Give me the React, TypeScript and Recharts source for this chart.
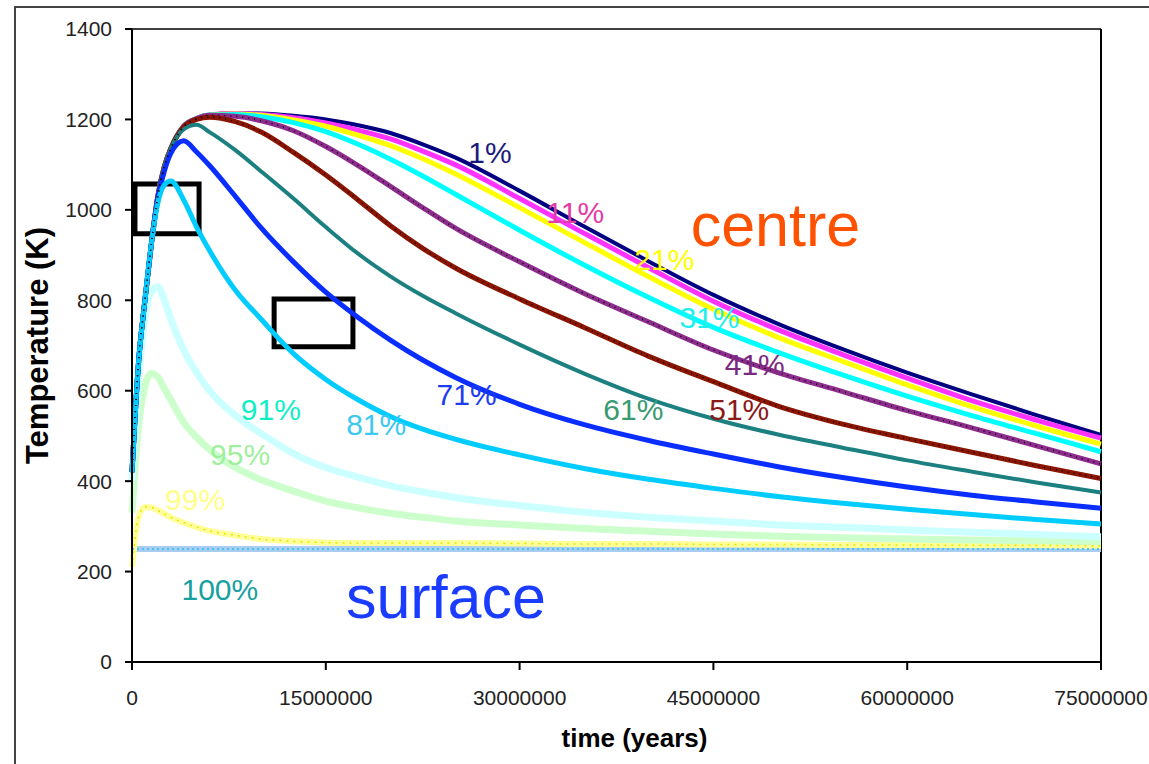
import { LineChart, Line, XAxis, YAxis, ReferenceLine, ReferenceArea, ReferenceDot, Label } from 'recharts'

// time axis, in millions of years
const TIME_MYR = [0, 0.5, 1, 1.5, 2, 2.5, 3, 4, 5, 6, 8, 10, 12.5, 15, 17.5, 20, 22.5, 25, 30, 35, 40, 45, 50, 55, 60, 65, 70, 75]

// temperature (K) at each depth fraction
const P1 = [420, 660, 800, 925, 1030, 1095, 1135, 1185, 1202, 1210, 1214, 1213, 1208, 1200, 1187, 1170, 1145, 1116, 1042, 963, 886, 812, 748, 692, 640, 592, 546, 502]
const P11 = [420, 660, 800, 925, 1030, 1095, 1135, 1185, 1202, 1210, 1213, 1211, 1204, 1192, 1176, 1157, 1130, 1100, 1025, 948, 872, 798, 735, 680, 628, 578, 535, 495]
const P21 = [420, 660, 800, 925, 1030, 1095, 1135, 1185, 1202, 1210, 1212, 1209, 1199, 1185, 1165, 1142, 1113, 1080, 1005, 928, 852, 780, 718, 665, 613, 565, 522, 482]
const P31 = [420, 660, 800, 925, 1030, 1095, 1135, 1185, 1202, 1210, 1211, 1206, 1193, 1173, 1145, 1112, 1075, 1035, 955, 878, 806, 740, 685, 635, 588, 545, 505, 465]
const P41 = [420, 660, 800, 925, 1030, 1095, 1135, 1185, 1202, 1209, 1207, 1197, 1175, 1140, 1098, 1052, 1005, 960, 885, 815, 752, 690, 640, 598, 556, 518, 478, 438]
const P51 = [420, 660, 800, 925, 1030, 1095, 1135, 1183, 1200, 1205, 1195, 1172, 1127, 1077, 1022, 965, 915, 872, 803, 740, 676, 620, 566, 526, 494, 464, 434, 406]
const P61 = [420, 660, 800, 925, 1030, 1095, 1135, 1178, 1188, 1172, 1132, 1085, 1025, 962, 903, 853, 810, 772, 702, 638, 582, 538, 503, 474, 446, 421, 397, 375]
const P71 = [420, 660, 800, 925, 1025, 1085, 1125, 1153, 1128, 1098, 1030, 960, 885, 818, 762, 712, 668, 630, 570, 525, 490, 460, 432, 408, 387, 369, 354, 340]
const P81 = [420, 660, 800, 925, 1015, 1055, 1064, 1022, 962, 910, 822, 758, 682, 625, 580, 543, 515, 493, 458, 428, 404, 384, 366, 351, 338, 326, 315, 305]
const P91 = [400, 620, 760, 820, 830, 800, 758, 690, 640, 600, 545, 505, 461, 430, 409, 390, 376, 364, 346, 331, 320, 312, 303, 298, 292, 287, 282, 277]
const P95 = [330, 520, 610, 638, 630, 605, 580, 530, 497, 470, 430, 403, 378, 356, 341, 329, 320, 312, 303, 295, 289, 283, 278, 275, 272, 270, 268, 266]
const P99 = [210, 320, 343, 342, 335, 328, 320, 308, 298, 290, 280, 272, 267, 264, 263, 263, 263, 263, 262, 261, 261, 260, 260, 259, 259, 258, 258, 257]
const P100 = [250, 250, 250, 250, 250, 250, 250, 250, 250, 250, 250, 250, 250, 250, 250, 250, 250, 250, 250, 250, 250, 250, 250, 250, 250, 250, 250, 250]

const X_TICKS = [0, 15000000, 30000000, 45000000, 60000000, 75000000]
const Y_TICKS = [0, 200, 400, 600, 800, 1000, 1200, 1400]

// curve labels: text, anchor (Myr, K) of the text baseline centre
const LABEL_TEXT = ['1%', '11%', '21%', '31%', '41%', '51%', '61%', '71%', '81%', '91%', '95%', '99%', '100%']
const LABEL_T = [27.7, 34.3, 41.2, 44.7, 48.2, 47.0, 38.8, 25.9, 18.9, 10.75, 8.37, 4.88, 6.8]
const LABEL_K = [1104, 971, 867, 739, 635, 535, 535, 568, 502, 535, 436, 336, 137]

const rows = TIME_MYR.map((t, i) => ({
  t: t * 1e6,
  p1: P1[i], p11: P11[i], p21: P21[i], p31: P31[i], p41: P41[i], p51: P51[i], p61: P61[i],
  p71: P71[i], p81: P81[i], p91: P91[i], p95: P95[i], p99: P99[i], p100: P100[i],
}))

// draw order matters: 81% ends up on top of the shared rising branch
const SERIES = [
  { key: 'p100', color: '#a9cdf2', width: 6, dot: '#27c4ee', dash: '2 3' },
  { key: 'p99', color: '#ffff99', width: 6, dot: '#e6e600', dash: '2 5' },
  { key: 'p95', color: '#ccffcc', width: 7 },
  { key: 'p91', color: '#ccffff', width: 7 },
  { key: 'p1', color: '#000080', width: 4 },
  { key: 'p11', color: '#ff33ff', width: 5 },
  { key: 'p21', color: '#ffff00', width: 5 },
  { key: 'p31', color: '#00ffff', width: 5 },
  { key: 'p41', color: '#8e2c8e', width: 5, dot: '#000', dash: '1 5' },
  { key: 'p51', color: '#8b1500', width: 5, dot: '#000', dash: '1 5' },
  { key: 'p61', color: '#1d8080', width: 4 },
  { key: 'p71', color: '#0a2eff', width: 5 },
  { key: 'p81', color: '#00ccff', width: 5 },
]

const LABEL_COLORS = ['#1b1b7e', '#e23ca6', '#ffff00', '#22eeee', '#7b2a80', '#8b1a1a', '#3a9a72', '#1c3cf0', '#3cc8f0', '#10eec4', '#9ef09e', '#ffff88', '#18a0a0']

const FONT = '"Liberation Sans", Arial, sans-serif'

function XTitle({ viewBox }: any) {
  const cx = viewBox.x + viewBox.width / 2 + 18
  return (
    <text x={cx} y={viewBox.y + 85} textAnchor="middle" fontFamily={FONT} fontWeight="bold" fontSize={26} fill="#000">
      time (years)
    </text>
  )
}

function YTitle({ viewBox }: any) {
  const cy = viewBox.y + viewBox.height / 2
  const cx = 37
  return (
    <text x={cx} y={cy} transform={`rotate(-90, ${cx}, ${cy})`} textAnchor="middle" dominantBaseline="central"
      fontFamily={FONT} fontWeight="bold" fontSize={31} fill="#000">
      Temperature (K)
    </text>
  )
}

function textShape(text: string, color: string, size: number) {
  return (p: any) => (
    <text x={p.cx} y={p.cy} textAnchor="middle" fontFamily={FONT} fontSize={size} fill={color}>
      {text}
    </text>
  )
}

export default function App() {
  return (
    <div style={{ position: 'absolute', left: 0, top: 0, width: 1149, height: 764, overflow: 'hidden', background: '#fff' }}>
      <div style={{ position: 'absolute', left: 14, top: 6, width: 1200, height: 800, border: '2px solid #444' }} />
      <div style={{ position: 'absolute', left: 0, top: 0 }}>
        <LineChart width={1149} height={764} data={rows} margin={{ top: 29, right: 48, left: 0, bottom: 0 }}>
          <XAxis
            dataKey="t"
            type="number"
            domain={[0, 75000000]}
            ticks={X_TICKS}
            tickFormatter={(v: number) => String(v)}
            height={102}
            tickSize={8}
            tickMargin={20}
            axisLine={{ stroke: '#000', strokeWidth: 2 }}
            tickLine={{ stroke: '#000', strokeWidth: 2 }}
            tick={{ fill: '#222', fontSize: 21, fontFamily: FONT }}
            interval={0}
          >
            <Label content={XTitle} />
          </XAxis>
          <YAxis
            type="number"
            domain={[0, 1400]}
            ticks={Y_TICKS}
            width={132}
            tickSize={7}
            tickMargin={13}
            axisLine={{ stroke: '#000', strokeWidth: 2 }}
            tickLine={{ stroke: '#000', strokeWidth: 2 }}
            tick={{ fill: '#222', fontSize: 21, fontFamily: FONT }}
            interval={0}
          >
            <Label content={YTitle} />
          </YAxis>
          <ReferenceLine y={1400} stroke="#000" strokeWidth={1.5} />
          <ReferenceLine x={75000000} stroke="#000" strokeWidth={2} />

          {SERIES.map((s) => (
            <Line key={s.key} type="monotone" dataKey={s.key} stroke={s.color} strokeWidth={s.width}
              dot={false} isAnimationActive={false} />
          ))}
          {SERIES.filter((s) => s.dot).map((s) => (
            <Line key={s.key + '-dots'} type="monotone" dataKey={s.key} stroke={s.dot} strokeWidth={1.5}
              strokeDasharray={s.dash} dot={false} isAnimationActive={false} />
          ))}

          <ReferenceArea x1={230000} x2={5190000} y1={947} y2={1057} fill="none" stroke="#000" strokeWidth={5} ifOverflow="visible" />
          <ReferenceArea x1={11000000} x2={17100000} y1={697} y2={803} fill="none" stroke="#000" strokeWidth={5} />

          {LABEL_TEXT.map((txt, i) => (
            <ReferenceDot key={txt} x={LABEL_T[i] * 1e6} y={LABEL_K[i]} r={0}
              shape={textShape(txt, LABEL_COLORS[i], 30)} />
          ))}
          <ReferenceDot x={49.8e6} y={920} r={0} shape={textShape('centre', '#ff5200', 61)} />
          <ReferenceDot x={24.3e6} y={97} r={0} shape={textShape('surface', '#1a3cff', 61)} />
        </LineChart>
      </div>
    </div>
  )
}
